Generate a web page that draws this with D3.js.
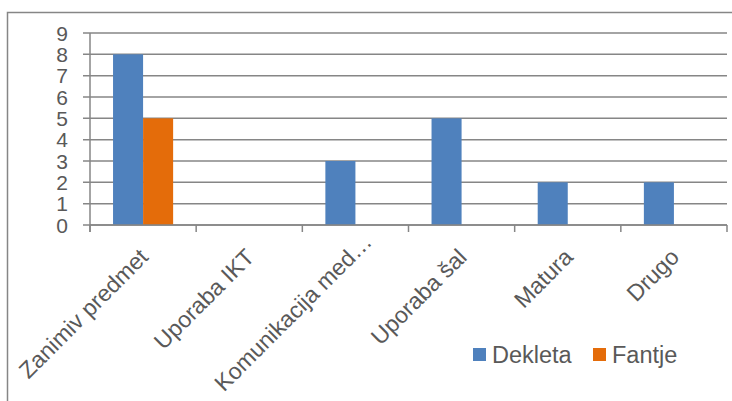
<!DOCTYPE html>
<meta charset="utf-8">
<style>
  body { margin: 0; background: #fff; }
  text { font-family: Arial, "Liberation Sans", sans-serif; fill: #595959; }
</style>
<body>
<script src="https://d3js.org/d3.v7.min.js"></script>
<script>
// chart data
var categories = ["Zanimiv predmet", "Uporaba IKT", "Komunikacija med\u2026", "Uporaba šal", "Matura", "Drugo"];
var series = ["Dekleta", "Fantje"];
var dekleta = [8, 0, 3, 5, 2, 2];
var fantje = [5, 0, 0, 0, 0, 0];
var yTicks = [0, 1, 2, 3, 4, 5, 6, 7, 8, 9];
var colors = ["#4F81BD", "#E46C0A"];

var W = 732, H = 401;
var margin = {top: 33, right: 5, bottom: 176, left: 90};
var width = W - margin.left - margin.right,
    height = H - margin.top - margin.bottom;

var svg = d3.select("body").append("svg")
  .attr("width", W).attr("height", H);

// outer chart border (runs off right / bottom)
svg.append("rect")
  .attr("x", 7.5).attr("y", 12.5)
  .attr("width", 740).attr("height", 400)
  .attr("fill", "none").attr("stroke", "#868686").attr("stroke-width", 1.5);

var g = svg.append("g").attr("transform", "translate(" + margin.left + "," + margin.top + ")");

var x = d3.scaleBand().domain(categories).range([0, width]);
var x1 = d3.scaleBand().domain(series).range([x.bandwidth() * 0.217, x.bandwidth() * 0.783]);
var y = d3.scaleLinear().domain([0, 9]).range([height, 0]);

// gridlines
g.selectAll(".grid").data(yTicks).enter().append("line")
  .attr("x1", -7).attr("x2", width)
  .attr("y1", function(d) { return y(d); }).attr("y2", function(d) { return y(d); })
  .attr("stroke", "#868686").attr("stroke-width", 1.5);

// y labels
g.selectAll(".ylab").data(yTicks).enter().append("text")
  .attr("x", -22).attr("y", function(d) { return y(d); })
  .attr("dy", "0.36em").attr("text-anchor", "end")
  .style("font-size", "21px")
  .text(function(d) { return d; });

// y axis line
g.append("line").attr("x1", 0).attr("x2", 0).attr("y1", 0).attr("y2", height + 7)
  .attr("stroke", "#868686").attr("stroke-width", 1.5);

// bars
var rows = categories.map(function(c, i) { return {cat: c, vals: [dekleta[i], fantje[i]]}; });
var grp = g.selectAll(".cat").data(rows).enter().append("g")
  .attr("transform", function(d) { return "translate(" + x(d.cat) + ",0)"; });
grp.selectAll("rect").data(function(d) {
    return d.vals.map(function(v, j) { return {s: series[j], v: v, j: j}; });
  }).enter().append("rect")
  .attr("x", function(d) { return x1(d.s); })
  .attr("width", x1.bandwidth())
  .attr("y", function(d) { return y(d.v); })
  .attr("height", function(d) { return height - y(d.v); })
  .attr("fill", function(d) { return colors[d.j]; });

// x axis line and ticks
g.append("line").attr("x1", 0).attr("x2", width).attr("y1", height).attr("y2", height)
  .attr("stroke", "#868686").attr("stroke-width", 1.5);
var tickPos = categories.map(function(c) { return x(c); }).concat([width]);
g.selectAll(".xtick").data(tickPos).enter().append("line")
  .attr("x1", function(d) { return d; }).attr("x2", function(d) { return d; })
  .attr("y1", height).attr("y2", height + 7)
  .attr("stroke", "#868686").attr("stroke-width", 1.5);

// x labels, rotated; long ones get pushed up along their own direction to stay inside
g.selectAll(".xlab").data(categories).enter().append("text")
  .attr("class", "xlab")
  .attr("text-anchor", "end").attr("dy", "0.71em")
  .style("font-size", "23px")
  .text(function(d) { return d; })
  .each(function(d) {
    var t = d3.select(this);
    var px = x(d) + x.bandwidth() / 2 - 5, py = height + 22;
    t.attr("transform", "translate(" + px + "," + py + ") rotate(-45)");
    var bottom = this.getBoundingClientRect().bottom;
    var over = bottom - 394;
    if (over > 0) {
      t.attr("transform", "translate(" + (px + over - 6) + "," + (py - over + 2) + ") rotate(-45)");
    }
  });

// legend
var leg = svg.append("g").attr("transform", "translate(473,348)");
var items = leg.selectAll("g").data(series).enter().append("g")
  .attr("transform", function(d, i) { return "translate(" + (i * 120) + ",0)"; });
items.append("rect").attr("width", 13).attr("height", 13)
  .attr("fill", function(d, i) { return colors[i]; });
items.append("text").attr("x", 19).attr("y", 6.5).attr("dy", "0.36em")
  .style("font-size", "23.5px")
  .text(function(d) { return d; });
</script>
</body>
